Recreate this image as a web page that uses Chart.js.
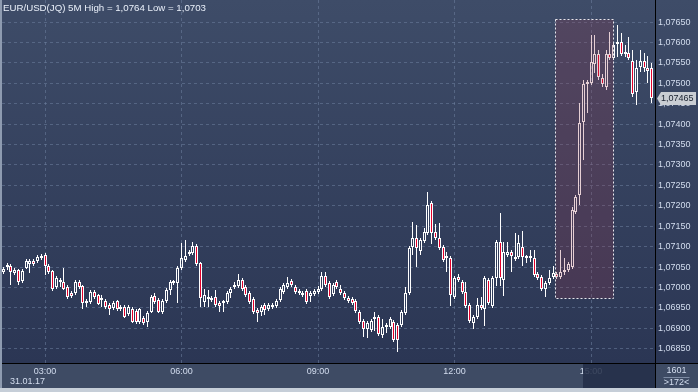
<!DOCTYPE html>
<html>
<head>
<meta charset="utf-8">
<title>EUR/USD 5M</title>
<script src="https://cdn.jsdelivr.net/npm/chart.js@4.4.1/dist/chart.umd.min.js"></script>
<style>
  html, body { margin: 0; padding: 0; background: #c6ced8; }
  canvas { display: block; }
</style>
</head>
<body>
<canvas id="candles" width="698" height="392"></canvas>
<script>
// EUR/USD 5 minute bars, 31.01.17, 02:05 .. 16:20 (172 bars)
const opens = [
  1.07038,1.07050,1.07052,1.07035,1.07043,1.07016,1.07047,1.07057,1.07065,1.07065,
  1.07072,1.07079,1.07052,1.07040,1.07001,1.07013,1.07013,1.07001,1.06986,1.06986,
  1.07013,1.07003,1.06962,1.06964,1.06989,1.06981,1.06969,1.06967,1.06957,1.06949,
  1.06967,1.06947,1.06952,1.06935,1.06947,1.06942,1.06915,1.06925,1.06915,1.06940,
  1.06979,1.06969,1.06940,1.06967,1.06994,1.07011,1.07011,1.07047,1.07067,1.07082,
  1.07084,1.07101,1.07060,1.06964,1.06971,1.06974,1.06976,1.06962,1.06962,1.06964,
  1.06986,1.07001,1.07003,1.07018,1.07001,1.06986,1.06971,1.06945,1.06940,1.06957,
  1.06947,1.06957,1.06954,1.06969,1.06989,1.07001,1.07016,1.07001,1.06991,1.06981,
  1.06991,1.06979,1.06984,1.06989,1.06996,1.07028,1.07011,1.06984,1.07013,1.06996,
  1.06986,1.06974,1.06971,1.06967,1.06940,1.06918,1.06898,1.06896,1.06922,1.06927,
  1.06883,1.06903,1.06903,1.06915,1.06908,1.06908,1.06937,1.06986,1.07099,1.07121,
  1.07089,1.07114,1.07133,1.07207,1.07136,1.07121,1.07099,1.07072,1.07072,1.06976,
  1.07025,1.07013,1.06989,1.06957,1.06913,1.06927,1.06957,1.06947,1.07018,1.06954,
  1.07023,1.07111,1.07018,1.07079,1.07087,1.07069,1.07074,1.07099,1.07072,1.07072,
  1.07072,1.07033,1.07025,1.06996,1.07011,1.07025,1.07033,1.07025,1.07038,1.07043,
  1.07050,1.07185,1.07226,1.07405,1.07498,1.07501,1.07547,1.07572,1.07513,1.07491,
  1.07572,1.07562,1.07596,1.07601,1.07572,1.07574,1.07555,1.07479,1.07540,1.07555,
  1.07537,1.07537
];
const highs = [
  1.07050,1.07060,1.07057,1.07047,1.07045,1.07045,1.07069,1.07069,1.07069,1.07079,
  1.07082,1.07084,1.07057,1.07043,1.07028,1.07023,1.07047,1.07006,1.06991,1.07018,
  1.07018,1.07006,1.06971,1.06994,1.06994,1.06984,1.06981,1.06971,1.06962,1.06967,
  1.06969,1.06957,1.06957,1.06957,1.06952,1.06947,1.06949,1.06930,1.06942,1.06981,
  1.06986,1.06974,1.06971,1.06998,1.07018,1.07018,1.07052,1.07109,1.07116,1.07092,
  1.07111,1.07106,1.07062,1.06996,1.06994,1.06979,1.06994,1.06967,1.06969,1.06991,
  1.07001,1.07013,1.07033,1.07023,1.07006,1.06991,1.06976,1.06949,1.06957,1.06962,
  1.06962,1.06962,1.06971,1.07001,1.07011,1.07025,1.07020,1.07006,1.06996,1.06991,
  1.06996,1.06991,1.06996,1.07003,1.07038,1.07038,1.07016,1.07011,1.07018,1.07006,
  1.06991,1.06979,1.06976,1.06971,1.06945,1.06922,1.06918,1.06922,1.06940,1.06932,
  1.06922,1.06913,1.06927,1.06920,1.06913,1.06945,1.07001,1.07101,1.07160,1.07153,
  1.07121,1.07145,1.07234,1.07212,1.07155,1.07158,1.07104,1.07087,1.07077,1.07028,
  1.07033,1.07018,1.07013,1.06962,1.06932,1.06974,1.06976,1.07028,1.07023,1.07028,
  1.07116,1.07182,1.07111,1.07111,1.07092,1.07133,1.07128,1.07138,1.07079,1.07092,
  1.07092,1.07038,1.07030,1.07016,1.07043,1.07052,1.07038,1.07092,1.07072,1.07062,
  1.07197,1.07226,1.07452,1.07508,1.07508,1.07618,1.07618,1.07582,1.07523,1.07582,
  1.07626,1.07599,1.07643,1.07623,1.07594,1.07613,1.07582,1.07557,1.07582,1.07574,
  1.07567,1.07550
];
const lows = [
  1.07033,1.07043,1.07006,1.07030,1.07006,1.07011,1.07045,1.07035,1.07052,1.07060,
  1.07067,1.07030,1.07033,1.06991,1.06996,1.07001,1.06994,1.06971,1.06974,1.06981,
  1.06996,1.06947,1.06952,1.06959,1.06971,1.06957,1.06952,1.06947,1.06932,1.06945,
  1.06942,1.06942,1.06925,1.06930,1.06913,1.06910,1.06910,1.06908,1.06903,1.06937,
  1.06959,1.06937,1.06935,1.06962,1.06981,1.07006,1.06962,1.07043,1.07062,1.07077,
  1.07079,1.07052,1.06952,1.06952,1.06952,1.06964,1.06952,1.06940,1.06940,1.06959,
  1.06974,1.06996,1.06998,1.06991,1.06976,1.06959,1.06935,1.06915,1.06930,1.06932,
  1.06942,1.06947,1.06949,1.06964,1.06984,1.06996,1.07001,1.06984,1.06981,1.06976,
  1.06959,1.06964,1.06979,1.06984,1.06991,1.07001,1.06971,1.06979,1.06996,1.06981,
  1.06969,1.06962,1.06957,1.06937,1.06910,1.06878,1.06876,1.06891,1.06893,1.06881,
  1.06876,1.06888,1.06898,1.06866,1.06842,1.06903,1.06932,1.06981,1.07079,1.07050,
  1.07079,1.07109,1.07128,1.07106,1.07116,1.07092,1.07062,1.07038,1.06954,1.06971,
  1.07013,1.06984,1.06949,1.06913,1.06898,1.06922,1.06945,1.06905,1.06957,1.06949,
  1.07003,1.07003,1.06979,1.07074,1.07038,1.07065,1.07069,1.07052,1.07060,1.07062,
  1.07025,1.07018,1.06991,1.06976,1.07006,1.07020,1.07020,1.07020,1.07030,1.07038,
  1.07045,1.07180,1.07202,1.07312,1.07427,1.07496,1.07525,1.07508,1.07491,1.07484,
  1.07557,1.07557,1.07564,1.07567,1.07564,1.07557,1.07466,1.07447,1.07528,1.07528,
  1.07501,1.07452
];
const closes = [
  1.07045,1.07052,1.07038,1.07043,1.07013,1.07040,1.07065,1.07065,1.07057,1.07074,
  1.07077,1.07052,1.07038,1.06996,1.07023,1.07016,1.06996,1.06976,1.06979,1.07013,
  1.07001,1.06962,1.06967,1.06989,1.06976,1.06959,1.06974,1.06952,1.06947,1.06962,
  1.06947,1.06952,1.06927,1.06952,1.06915,1.06915,1.06947,1.06913,1.06937,1.06976,
  1.06964,1.06940,1.06967,1.06994,1.07013,1.07013,1.07047,1.07072,1.07077,1.07087,
  1.07101,1.07057,1.06974,1.06981,1.06974,1.06969,1.06957,1.06954,1.06964,1.06986,
  1.06996,1.07003,1.07018,1.06996,1.06981,1.06964,1.06940,1.06937,1.06952,1.06945,
  1.06957,1.06952,1.06967,1.06996,1.07006,1.07011,1.07006,1.06989,1.06986,1.06986,
  1.06964,1.06986,1.06991,1.06996,1.07028,1.07006,1.06976,1.07006,1.07001,1.06986,
  1.06974,1.06967,1.06962,1.06942,1.06915,1.06898,1.06913,1.06918,1.06927,1.06886,
  1.06903,1.06908,1.06922,1.06871,1.06871,1.06940,1.06986,1.07096,1.07121,1.07096,
  1.07116,1.07136,1.07202,1.07133,1.07121,1.07096,1.07067,1.07072,1.06981,1.07023,
  1.07018,1.06989,1.06954,1.06918,1.06927,1.06957,1.06949,1.07023,1.06962,1.07023,
  1.07111,1.07023,1.07087,1.07087,1.07077,1.07074,1.07109,1.07074,1.07072,1.07074,
  1.07030,1.07023,1.06996,1.07011,1.07023,1.07035,1.07025,1.07038,1.07043,1.07057,
  1.07190,1.07221,1.07403,1.07498,1.07501,1.07552,1.07572,1.07515,1.07498,1.07572,
  1.07562,1.07594,1.07599,1.07572,1.07574,1.07562,1.07474,1.07537,1.07555,1.07537,
  1.07530,1.07465
];

// bar index of each time label (bar 0 = 02:05)
const tickIdx = [11, 47, 83, 119, 155];
const tickLabels = ['03:00', '06:00', '09:00', '12:00', '15:00'];

// highlighted zone (bar index range and price range)
const zoneFrom = 145.6, zoneTo = 160.9;
const zoneHigh = 1.07657, zoneLow = 1.06974;
// dark marker on the time axis starts here
const cursorFrom = 152.9;

const title = 'EUR/USD(JQ) 5M High = 1,0764 Low = 1,0703';
const dateLabel = '31.01.17';
const barCount = '1601';
const visibleBars = '>172<';

const fmt = v => v.toFixed(5).replace('.', ',');
const FAMILY = '"Liberation Sans", Arial, sans-serif';
const TEXT = '#d3ddef';
const GRID = 'rgba(110,128,158,0.55)';

const n = closes.length;
const bodies = opens.map((o, i) => ({x: i, y: [o, closes[i]]}));
const wickUp = opens.map((o, i) => ({x: i, y: [Math.max(o, closes[i]), highs[i]]}));
const wickDown = opens.map((o, i) => ({x: i, y: [lows[i], Math.min(o, closes[i])]}));
const bodyFill = opens.map((o, i) => closes[i] < o ? '#e3002a' : 'rgba(0,0,0,0)');

// snap the bars the scales placed onto whole pixels so the candles stay crisp
const snap = {
  id: 'snap',
  beforeDatasetsDraw(chart) {
    chart.data.datasets.forEach((ds, k) => {
      chart.getDatasetMeta(k).data.forEach(el => {
        el.x = Math.round(el.x - 0.5) + 0.5;
        el.y = Math.round(el.y);
        el.base = Math.round(el.base);
      });
    });
  }
};

const decor = {
  id: 'decor',
  beforeDraw(chart) {
    const {ctx, chartArea: a, width, height} = chart;
    ctx.save();
    ctx.fillStyle = '#c6ced8';
    ctx.fillRect(0, 0, width, height);
    const g = ctx.createLinearGradient(0, a.top, 0, a.bottom);
    g.addColorStop(0, '#3e4c68');
    g.addColorStop(1, '#2b3654');
    ctx.fillStyle = g;
    ctx.fillRect(a.left, 0, width - a.left, a.bottom);
    ctx.fillStyle = '#3e4b64';
    ctx.fillRect(a.left, a.bottom, width - a.left, height - 4 - a.bottom);
    ctx.fillStyle = '#8e9bb0';
    ctx.fillRect(0, 0, a.left, height - 4);
    ctx.restore();
  },
  afterDatasetsDraw(chart) {
    const {ctx, scales: {x, y}} = chart;
    const x0 = Math.round(x.getPixelForValue(zoneFrom)) + 0.5;
    const x1 = Math.round(x.getPixelForValue(zoneTo)) + 0.5;
    const y0 = Math.round(y.getPixelForValue(zoneHigh)) + 0.5;
    const y1 = Math.round(y.getPixelForValue(zoneLow)) + 0.5;
    ctx.save();
    ctx.fillStyle = 'rgba(150,55,75,0.24)';
    ctx.fillRect(x0, y0, x1 - x0, y1 - y0);
    ctx.strokeStyle = '#e8e8ee';
    ctx.lineWidth = 1;
    ctx.setLineDash([2, 2]);
    ctx.strokeRect(x0, y0, x1 - x0, y1 - y0);
    ctx.restore();
  },
  afterDraw(chart) {
    const {ctx, chartArea: a, width, height, scales: {x, y}} = chart;
    ctx.save();
    // dark marker over the time axis
    const cx = Math.round(x.getPixelForValue(cursorFrom));
    ctx.fillStyle = 'rgba(36,46,72,0.86)';
    ctx.fillRect(cx, a.bottom + 1, a.right - cx, height - 5 - a.bottom);
    // axis lines
    ctx.strokeStyle = '#000000';
    ctx.lineWidth = 1;
    ctx.beginPath();
    ctx.moveTo(a.right + 0.5, 0);
    ctx.lineTo(a.right + 0.5, height - 4);
    ctx.moveTo(a.left, a.bottom + 0.5);
    ctx.lineTo(width, a.bottom + 0.5);
    ctx.stroke();
    // texts
    ctx.textBaseline = 'middle';
    ctx.textAlign = 'left';
    ctx.font = '9.7px ' + FAMILY;
    ctx.fillStyle = '#eaf0fa';
    ctx.fillText(title, 3, 8);
    ctx.font = '9px ' + FAMILY;
    ctx.fillStyle = TEXT;
    ctx.fillText(dateLabel, 10, 382);
    ctx.textAlign = 'center';
    const mid = (a.right + width) / 2;
    ctx.fillText(barCount, mid, 371);
    ctx.fillText(visibleBars, mid, 383);
    ctx.strokeStyle = '#7d8ba3';
    ctx.beginPath();
    ctx.moveTo(mid - 13, 377.5);
    ctx.lineTo(mid + 13, 377.5);
    ctx.stroke();
    // last price tag
    const last = closes[n - 1];
    const py = Math.round(y.getPixelForValue(last)) + 0.5;
    ctx.fillStyle = '#c9cdd3';
    ctx.beginPath();
    ctx.moveTo(a.right + 2, py);
    ctx.lineTo(a.right + 6, py - 6.5);
    ctx.lineTo(width - 2, py - 6.5);
    ctx.lineTo(width - 2, py + 6.5);
    ctx.lineTo(a.right + 6, py + 6.5);
    ctx.closePath();
    ctx.fill();
    ctx.fillStyle = '#18202e';
    ctx.textAlign = 'left';
    ctx.fillText(fmt(last), a.right + 6, py);
    ctx.restore();
  }
};

new Chart(document.getElementById('candles'), {
  type: 'bar',
  data: {
    datasets: [
      {data: bodies, backgroundColor: bodyFill, borderColor: '#ffffff', borderWidth: 1,
       borderSkipped: false, barThickness: 3, minBarLength: 2, inflateAmount: 0,
       grouped: false, order: 0},
      {data: wickUp, backgroundColor: '#ffffff', borderWidth: 0, barThickness: 1,
       inflateAmount: 0, grouped: false, order: 1},
      {data: wickDown, backgroundColor: '#ffffff', borderWidth: 0, barThickness: 1,
       inflateAmount: 0, grouped: false, order: 1}
    ]
  },
  options: {
    responsive: false,
    animation: false,
    devicePixelRatio: 1,
    layout: {padding: {left: 2, right: 0, top: 0, bottom: 4}},
    plugins: {legend: {display: false}, tooltip: {enabled: false}},
    scales: {
      x: {
        type: 'linear',
        offset: false,
        min: -0.35,
        max: 171.87,
        grid: {color: GRID, drawTicks: false, offset: false},
        border: {display: false, dash: [3, 3]},
        ticks: {
          color: TEXT, font: {family: FAMILY, size: 9},
          padding: 3, maxRotation: 0,
          callback: v => tickLabels[tickIdx.indexOf(v)]
        },
        afterBuildTicks: s => { s.ticks = tickIdx.map(v => ({value: v})); },
        afterFit: s => { s.height = 25; s.paddingLeft = 0; s.paddingRight = 0; }
      },
      y: {
        position: 'right',
        min: 1.06815,
        max: 1.07704,
        grid: {color: GRID, drawTicks: false},
        border: {display: false, dash: [3, 3]},
        ticks: {
          stepSize: 0.0005, includeBounds: false, padding: 3,
          color: TEXT, font: {family: FAMILY, size: 9},
          callback: v => fmt(v)
        },
        afterBuildTicks: s => { s.ticks = s.ticks.filter(t => t.value < 1.0768); },
        afterFit: s => { s.width = 43; s.paddingTop = 0; s.paddingBottom = 0; }
      }
    }
  },
  plugins: [snap, decor]
});
</script>
</body>
</html>
